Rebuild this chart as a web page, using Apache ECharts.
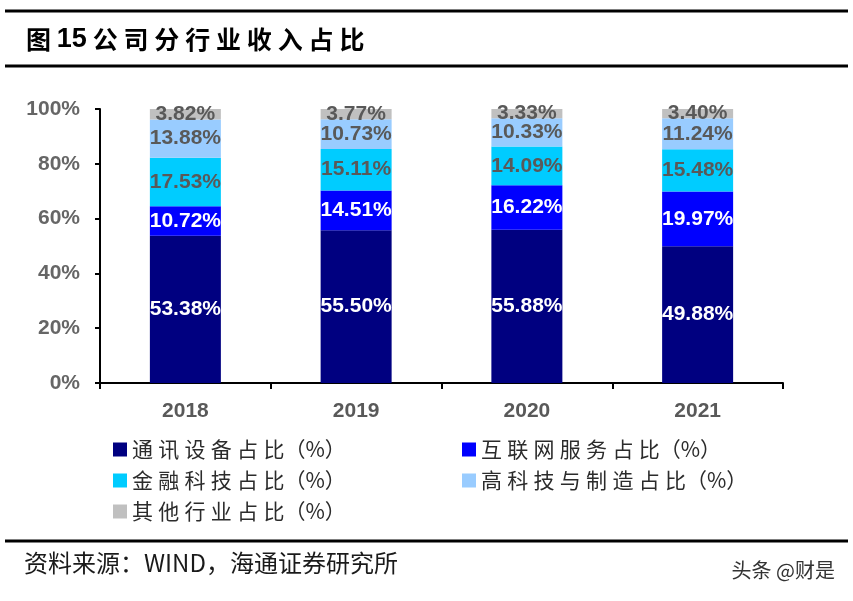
<!DOCTYPE html>
<html>
<head>
<meta charset="utf-8">
<script src="https://cdn.jsdelivr.net/npm/echarts@6/dist/echarts.min.js"></script>
<style>
html,body{margin:0;padding:0;background:#fff;}
#main{width:853px;height:601px;}
</style>
</head>
<body>
<div id="main"></div>
<script>
const categories = ['2018', '2019', '2020', '2021'];
const seriesNames = ['通讯设备占比（%）', '互联网服务占比（%）', '金融科技占比（%）', '高科技与制造占比（%）', '其他行业占比（%）'];
const commEquip = [53.38, 55.50, 55.88, 49.88];
const internetSvc = [10.72, 14.51, 16.22, 19.97];
const fintech = [17.53, 15.11, 14.09, 15.48];
const hitechMfg = [13.88, 10.73, 10.33, 11.24];
const others = [3.82, 3.77, 3.33, 3.40];
const yTicks = [0, 20, 40, 60, 80, 100];

const colors = ['#000080', '#0000FF', '#00CCFF', '#99CCFF', '#C0C0C0'];
const labelColors = ['#FFFFFF', '#FFFFFF', '#595959', '#595959', '#595959'];
const seriesData = [commEquip, internetSvc, fintech, hitechMfg, others];

// 100% stacked: each column is scaled to its own total, labels keep the raw values
const totals = categories.map((_, j) => seriesData.reduce((s, arr) => s + arr[j], 0));

const chart = echarts.init(document.getElementById('main'));

function spaced(str) {
  const m = str.match(/^(.*?)(（%）)$/);
  const head = m ? m[1] : str;
  const tail = m ? m[2] : '';
  return head.split('').map(c => '{c|' + c + '}').join('{s| }') + (tail ? '{c|' + tail + '}' : '');
}
const legendRich = {
  c: {fontFamily: 'Noto Sans CJK SC', fontSize: 21, color: '#2b2b2b', lineHeight: 24},
  s: {fontFamily: 'Liberation Sans', fontSize: 19, lineHeight: 24}
};

const titleText = '公司分行业收入占比'.split('').map(c => '{t|' + c + '}').join('{s| }');

const option = {
  animation: false,
  backgroundColor: '#fff',
  grid: {left: 100, right: 70, top: 109, bottom: 218, containLabel: false},
  xAxis: {
    type: 'category',
    data: categories,
    axisLine: {show: true, lineStyle: {color: '#000', width: 2}},
    axisTick: {show: true, length: 6, lineStyle: {color: '#000', width: 2}},
    axisLabel: {margin: 18, fontFamily: 'Liberation Sans', fontWeight: 'bold', fontSize: 21, color: '#595959'}
  },
  yAxis: {
    type: 'value',
    min: yTicks[0], max: yTicks[yTicks.length - 1], interval: 20,
    splitLine: {show: false},
    axisLine: {show: true, lineStyle: {color: '#000', width: 2}},
    axisTick: {show: true, length: 5, lineStyle: {color: '#000', width: 2}},
    axisLabel: {margin: 20, formatter: '{value}%', fontFamily: 'Liberation Sans', fontWeight: 'bold', fontSize: 21, color: '#666666'}
  },
  legend: [
    {
      data: [seriesNames[0], seriesNames[2], seriesNames[4]],
      orient: 'vertical', left: 108, top: 434,
      itemWidth: 14, itemHeight: 14, itemGap: 10, icon: 'rect',
      formatter: spaced,
      textStyle: {rich: legendRich}
    },
    {
      data: [seriesNames[1], seriesNames[3]],
      orient: 'vertical', left: 457, top: 434,
      itemWidth: 14, itemHeight: 14, itemGap: 10, icon: 'rect',
      formatter: spaced,
      textStyle: {rich: legendRich}
    }
  ],
  series: seriesData.map((d, i) => ({
    name: seriesNames[i],
    type: 'bar',
    stack: 'total',
    barWidth: 71,
    data: d.map((v, j) => ({value: v / totals[j] * 100, raw: v})),
    itemStyle: {color: colors[i]},
    label: {
      show: true,
      position: 'inside',
      formatter: p => p.data.raw.toFixed(2) + '%',
      fontFamily: 'Liberation Sans',
      fontWeight: 'bold',
      fontSize: 21,
      color: labelColors[i]
    }
  })),
  graphic: [
    {type: 'line', shape: {x1: 5, y1: 11, x2: 848, y2: 11}, style: {stroke: '#000', lineWidth: 3}},
    {type: 'line', shape: {x1: 5, y1: 66, x2: 848, y2: 66}, style: {stroke: '#000', lineWidth: 3}},
    {type: 'line', shape: {x1: 5, y1: 541, x2: 848, y2: 541}, style: {stroke: '#000', lineWidth: 3}},
    {
      type: 'text', left: 26, top: 26,
      style: {
        text: '{h|图}{s| }{n|15}{s| }' + titleText,
        rich: {
          h: {fontFamily: 'Noto Sans CJK SC', fontWeight: 'bold', fontSize: 25, fill: '#000'},
          n: {fontFamily: 'Liberation Sans', fontWeight: 'bold', fontSize: 27, fill: '#000'},
          t: {fontFamily: 'Noto Sans CJK SC', fontWeight: 'bold', fontSize: 25, fill: '#000'},
          s: {fontFamily: 'Liberation Sans', fontSize: 21}
        }
      }
    },
    {
      type: 'text', left: 24, top: 551,
      style: {text: '资料来源：WIND，海通证券研究所', font: '24px "Noto Sans CJK SC", "Liberation Sans"', fill: '#1a1a1a'}
    },
    {
      type: 'text', right: 18, top: 560,
      style: {text: '头条 @财是', font: '20px "Noto Sans CJK SC"', fill: '#333'}
    }
  ]
};
chart.setOption(option);
</script>
</body>
</html>
